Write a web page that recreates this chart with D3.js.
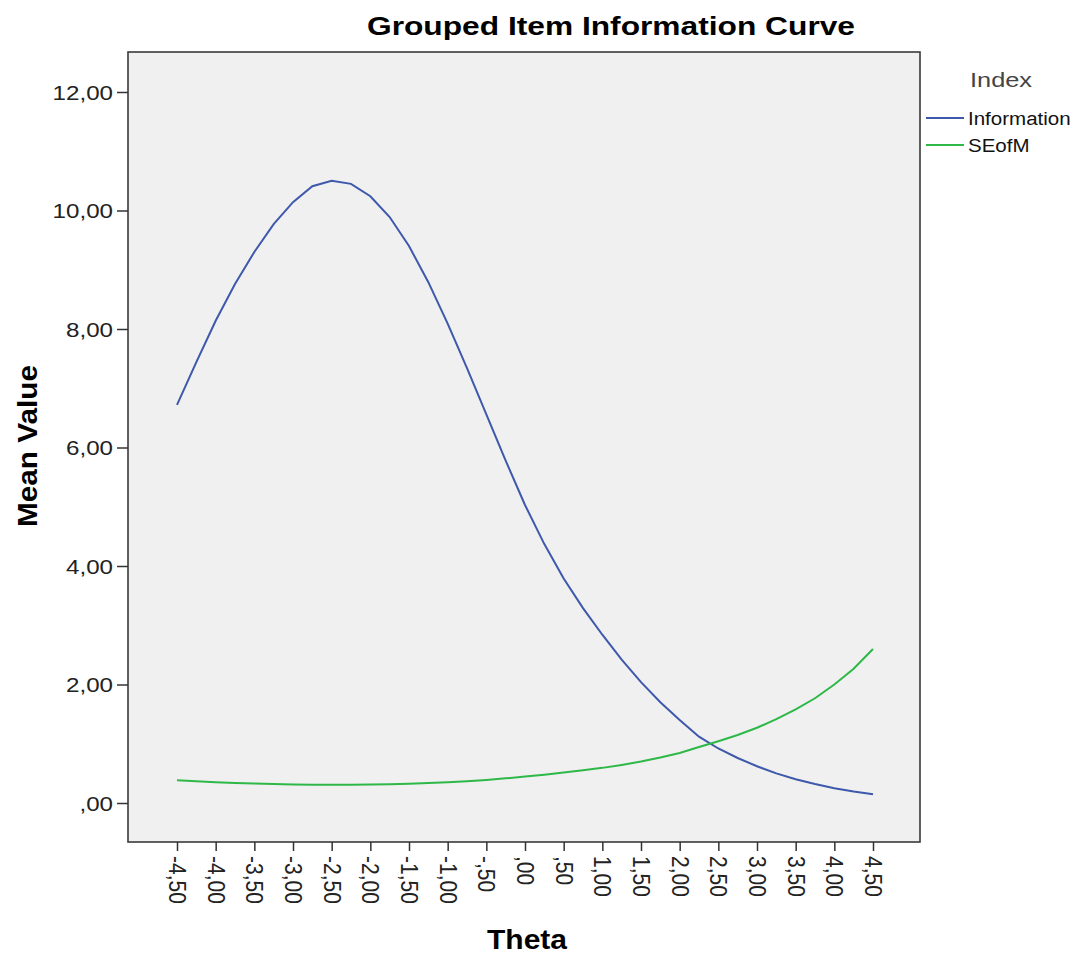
<!DOCTYPE html>
<html>
<head>
<meta charset="utf-8">
<script src="https://cdn.jsdelivr.net/npm/d3@7/dist/d3.min.js"></script>
<style>
  body { margin: 0; background: #fff; }
  svg text { font-family: "Liberation Sans", Arial, sans-serif; }
</style>
</head>
<body>
<div id="chart"></div>
<script>
// values
let theta = [-4.5, -4.25, -4, -3.75, -3.5, -3.25, -3, -2.75, -2.5, -2.25, -2, -1.75, -1.5, -1.25, -1, -0.75, -0.5, -0.25,
	0, 0.25, 0.5, 0.75, 1, 1.25, 1.5, 1.75, 2, 2.25, 2.5, 2.75, 3, 3.25, 3.5, 3.75, 4, 4.25, 4.5];
let information = [6.72, 7.44, 8.14, 8.76, 9.30, 9.77, 10.14, 10.41, 10.50, 10.45, 10.24, 9.89, 9.40, 8.79, 8.09, 7.34, 6.56, 5.78,
	5.03, 4.37, 3.79, 3.29, 2.84, 2.42, 2.04, 1.70, 1.40, 1.12, 0.92, 0.76, 0.62, 0.50, 0.40, 0.32, 0.25, 0.195, 0.148];
let seofm = [0.386, 0.367, 0.350, 0.338, 0.328, 0.320, 0.314, 0.310, 0.309, 0.309, 0.312, 0.318, 0.326, 0.337, 0.352, 0.369, 0.390, 0.416,
	0.446, 0.478, 0.514, 0.551, 0.593, 0.643, 0.700, 0.767, 0.845, 0.945, 1.043, 1.147, 1.270, 1.414, 1.581, 1.768, 2.00, 2.265, 2.60];
let seriesNames = ["Information", "SEofM"];
let seriesColors = ["#3e58ac", "#2eb848"];
let xTicks = [-4.5, -4, -3.5, -3, -2.5, -2, -1.5, -1, -0.5, 0, 0.5, 1, 1.5, 2, 2.5, 3, 3.5, 4, 4.5];
let yTicks = [0, 2, 4, 6, 8, 10, 12];

let width = 1078, height = 954;
let frame = {left: 128, right: 920, top: 52, bottom: 842};

// SPSS style number: comma decimal, plain hyphen, no leading zero
function fmt(v){
	let s = d3.format(".2f")(v).replace("\u2212", "-").replace(".", ",");
	return s.replace(/^(-?)0,/, "$1,");
}

let svg = d3.select("#chart").append("svg")
	.attr("width", width)
	.attr("height", height);

let x = d3.scaleLinear().domain([-4.5, 4.5]).range([177, 873]);
let y = d3.scaleLinear().domain([0, 12]).range([803, 92]);

svg.append("rect")
	.attr("x", frame.left)
	.attr("y", frame.top)
	.attr("width", frame.right - frame.left)
	.attr("height", frame.bottom - frame.top)
	.attr("fill", "#f0f0f0")
	.attr("stroke", "#3a3a3a")
	.attr("stroke-width", 1.6);

// y axis (the source picture is a little stretched sideways, so the labels are too)
let yAxis = d3.axisLeft(y).tickValues(yTicks).tickFormat(fmt).tickSize(11);
let gy = svg.append("g")
	.attr("transform", "translate(" + frame.left + ",0)")
	.call(yAxis);
gy.select(".domain").remove();
gy.selectAll("line").attr("stroke", "#333").attr("stroke-width", 1.5);
gy.selectAll("text")
	.attr("fill", "#222")
	.style("font-size", "21px")
	.attr("x", 0)
	.attr("transform", "translate(-15,0) scale(1.15,1)")
	.attr("dy", "0.35em");

// x axis with rotated labels
let xAxis = d3.axisBottom(x).tickValues(xTicks).tickFormat(fmt).tickSize(9);
let gx = svg.append("g")
	.attr("transform", "translate(0," + frame.bottom + ")")
	.call(xAxis);
gx.select(".domain").remove();
gx.selectAll("line").attr("stroke", "#333").attr("stroke-width", 1.5);
gx.selectAll("text")
	.attr("fill", "#222")
	.style("font-size", "21px")
	.attr("text-anchor", "start")
	.attr("transform", "translate(0,14) scale(1.15,1) rotate(90)")
	.attr("x", 0)
	.attr("y", 0)
	.attr("dy", "0.35em");

// lines
let line = d3.line()
	.x((d, i) => x(theta[i]))
	.y(d => y(d));

svg.selectAll(".series")
	.data([information, seofm])
	.enter().append("path")
	.attr("class", "series")
	.attr("d", d => line(d))
	.attr("fill", "none")
	.attr("stroke", (d, i) => seriesColors[i])
	.attr("stroke-width", 2);

// titles
svg.append("text")
	.attr("x", 611)
	.attr("y", 35)
	.attr("text-anchor", "middle")
	.style("font-size", "26px")
	.style("font-weight", "bold")
	.attr("textLength", 488)
	.attr("lengthAdjust", "spacingAndGlyphs")
	.text("Grouped Item Information Curve");

svg.append("text")
	.attr("x", 527)
	.attr("y", 949)
	.attr("text-anchor", "middle")
	.style("font-size", "27px")
	.style("font-weight", "bold")
	.attr("textLength", 80)
	.attr("lengthAdjust", "spacingAndGlyphs")
	.text("Theta");

svg.append("text")
	.attr("transform", "translate(37,446) rotate(-90)")
	.attr("text-anchor", "middle")
	.style("font-size", "27px")
	.style("font-weight", "bold")
	.attr("textLength", 162)
	.attr("lengthAdjust", "spacingAndGlyphs")
	.text("Mean Value");

// legend
let legend = svg.append("g").attr("transform", "translate(926,0)");
legend.append("text")
	.attr("x", 44)
	.attr("y", 87)
	.attr("fill", "#444")
	.style("font-size", "21px")
	.attr("textLength", 62)
	.attr("lengthAdjust", "spacingAndGlyphs")
	.text("Index");

let items = legend.selectAll(".item")
	.data(seriesNames)
	.enter().append("g")
	.attr("class", "item")
	.attr("transform", (d, i) => "translate(0," + (118 + i * 27) + ")");
items.append("line")
	.attr("x1", 0).attr("x2", 38)
	.attr("stroke", (d, i) => seriesColors[i])
	.attr("stroke-width", 2);
items.append("text")
	.attr("x", 0)
	.attr("transform", "translate(42,0) scale(1.08,1)")
	.attr("dy", "0.36em")
	.attr("fill", "#111")
	.style("font-size", "19px")
	.text(d => d);
</script>
</body>
</html>
